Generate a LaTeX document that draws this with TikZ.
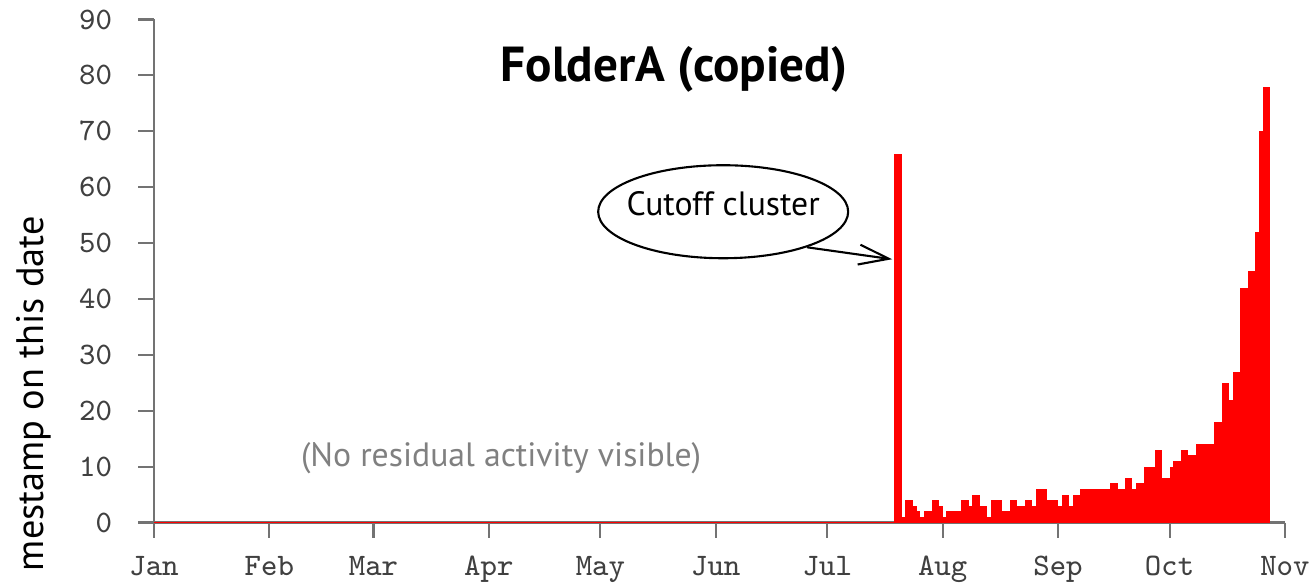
\documentclass[tikz,border=0pt]{standalone}
\usepackage{fontspec}
\setmainfont{PT Sans}
\usepackage{tikz}
\usetikzlibrary{arrows.meta, shapes.geometric, calc}

\begin{document}
\begin{tikzpicture}[x=0.0372cm, y=0.0559cm,
    axisline/.style={draw=black!55, line width=0.6pt},
    ticklabel/.style={font=\ttfamily\fontsize{8.9}{10}\selectfont, text=black!75, inner sep=0pt},
    barfill/.style={fill=red},
    note/.style={font=\fontsize{9.6}{11}\selectfont, inner sep=0pt}]
  \useasboundingbox (-1.54cm,-0.605cm) rectangle (11.60cm,5.225cm);
  % Eixo y
  \draw[axisline] (0,-1.4) -- (0,90);
  \foreach \v in {0,10,...,90}
    \draw[axisline] (-4.3,\v) -- (0,\v)
      node[ticklabel, anchor=east, xshift=-0.41cm] (ytick\v) {\v};
  % Eixo x com os meses
  \draw[axisline] (0,0) -- (304,0);
  \foreach \m/\d in {Jan/0, Feb/31, Mar/59, Apr/90, May/120, Jun/151,
                     Jul/181, Aug/212, Sep/243, Oct/273, Nov/304} {
    \draw[axisline] (\d,0) -- (\d,-2.8);
    \node[ticklabel, anchor=base] (xtick\m) at (\d,-9.4) {\m};
  }
  % Linha zero ate o pico
  \draw[red, line width=0.5pt] (0,0) -- (199,0);
  % Barras diarias
  \foreach \v [count=\d from 199] in {66,66,1,4,4,3,2,1,2,2,4,4,3,1,2,2,2,2,4,4,
      3,5,5,3,3,1,4,4,4,2,2,4,4,3,3,4,4,3,6,6,6,4,4,4,3,5,5,3,5,5,
      6,6,6,6,6,6,6,6,7,7,6,6,8,8,6,7,7,10,10,10,13,13,8,8,10,11,11,13,13,12,
      12,14,14,14,14,14,18,18,25,25,22,27,27,42,42,45,45,52,70,78,78}
    \fill[barfill] (\d,0) rectangle (\d+1,\v);
  % Titulo e rotulos
  \node[font=\bfseries\fontsize{14}{16}\selectfont] (title) at (139.8,81) {FolderA (copied)};
  \node[font=\fontsize{10.9}{13}\selectfont, rotate=90, anchor=west] (ylabel)
    at (-32.3,-10.9) {mestamp on this date};
  \node[note, text=black!50] (residual) at (93.3,11.5) {(No residual activity visible)};
  % Balao apontando o pico
  \node[ellipse, draw, line width=0.6pt, minimum width=2.5cm, minimum height=0.93cm,
    inner sep=0pt] (cutoff) at (153,55.6) {};
  \node[note] (cutofftext) at ([yshift=0.085cm]cutoff.center) {Cutoff cluster};
  \coordinate (spike) at (198.4,47.1);
  \draw[-{Straight Barb[length=3mm, width=2mm]}, line width=0.6pt] (cutoff.-23) -- (spike);
\end{tikzpicture}
\end{document}
